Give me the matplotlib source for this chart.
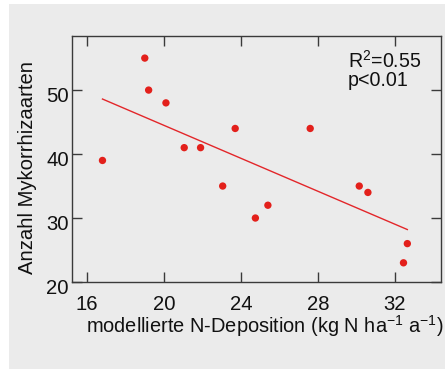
import matplotlib
matplotlib.use("Agg")
import matplotlib.pyplot as plt
import matplotlib.transforms as mtransforms
from matplotlib.patches import Rectangle

# ---- data ----
n_deposition = [16.8, 19.0, 19.2, 20.1, 21.05, 21.9, 23.05, 23.7, 24.75, 25.4, 27.6, 30.15, 30.6, 32.45, 32.65]
mycorrhiza_species = [39, 55, 50, 48, 41, 41, 35, 44, 30, 32, 44, 35, 34, 23, 26]
fit_x = [16.8, 32.65]
fit_y = [48.6, 28.2]
x_ticks = [16, 20, 24, 28, 32]
y_ticks = [20, 30, 40, 50]
stats_r2 = "R$^{\\mathrm{2}}$=0.55"
stats_p = "p<0.01"
x_label = "modellierte N-Deposition (kg N ha$^{\\mathrm{-1}}$ a$^{\\mathrm{-1}}$)"
y_label = "Anzahl Mykorrhizaarten"

plt.rcParams['font.family'] = ['Liberation Sans', 'DejaVu Sans']
plt.rcParams['mathtext.fontset'] = 'custom'
plt.rcParams['mathtext.rm'] = 'Liberation Sans'
plt.rcParams['mathtext.it'] = 'Liberation Sans:italic'
plt.rcParams['mathtext.bf'] = 'Liberation Sans:bold'

W, H = 445, 369
dpi = 100
fig = plt.figure(figsize=(W / dpi, H / dpi), dpi=dpi, facecolor='white')
bg = '#ebebeb'
fig.patches.append(Rectangle((9 / W, 0), 1, 1 - 4 / H, transform=fig.transFigure,
                             facecolor=bg, edgecolor='none', zorder=-10))

ax = fig.add_axes([71.7 / W, 1 - 282 / H, (441 - 71.7) / W, (282 - 35.7) / H])
ax.set_facecolor(bg)
ax.set_xlim(15.2, 34.4)
ax.set_ylim(20, 58.5)

spine_col = '#3a3a3a'
for s in ax.spines.values():
    s.set_color(spine_col)
    s.set_linewidth(1.0)

ax.set_xticks(x_ticks)
ax.set_yticks(y_ticks)
ax.tick_params(direction='in', length=7.2, width=1.0, color=spine_col,
               top=True, right=True, labelsize=14.6, labelcolor='#111111')
ax.tick_params(axis='x', pad=9)
ax.tick_params(axis='y', pad=2)

offset = mtransforms.ScaledTranslation(0, -6 / dpi, fig.dpi_scale_trans)
for tick in ax.yaxis.get_major_ticks():
    tick.label1.set_verticalalignment('center')
    tick.label1.set_transform(tick.label1.get_transform() + offset)

ax.plot(fit_x, fit_y, color='#e3262a', linewidth=1.0, zorder=2)
ax.scatter(n_deposition, mycorrhiza_species, s=28, color='#e3201b', edgecolors='none', zorder=3)

fig.text(348 / W, 1 - 67.7 / H, stats_r2, fontsize=14.1, color='#111111',
         ha='left', va='baseline')
fig.text(348 / W, 1 - 85.7 / H, stats_p, fontsize=14.1, color='#111111',
         ha='left', va='baseline')

fig.text(86 / W, 1 - 333 / H, x_label, fontsize=14.4, color='#111111', ha='left', va='baseline')
fig.text(28 / W, 1 - 167 / H, y_label, fontsize=14.6, color='#111111', rotation=90,
         ha='center', va='center')

fig.savefig('out.png', dpi=dpi, facecolor='white')
